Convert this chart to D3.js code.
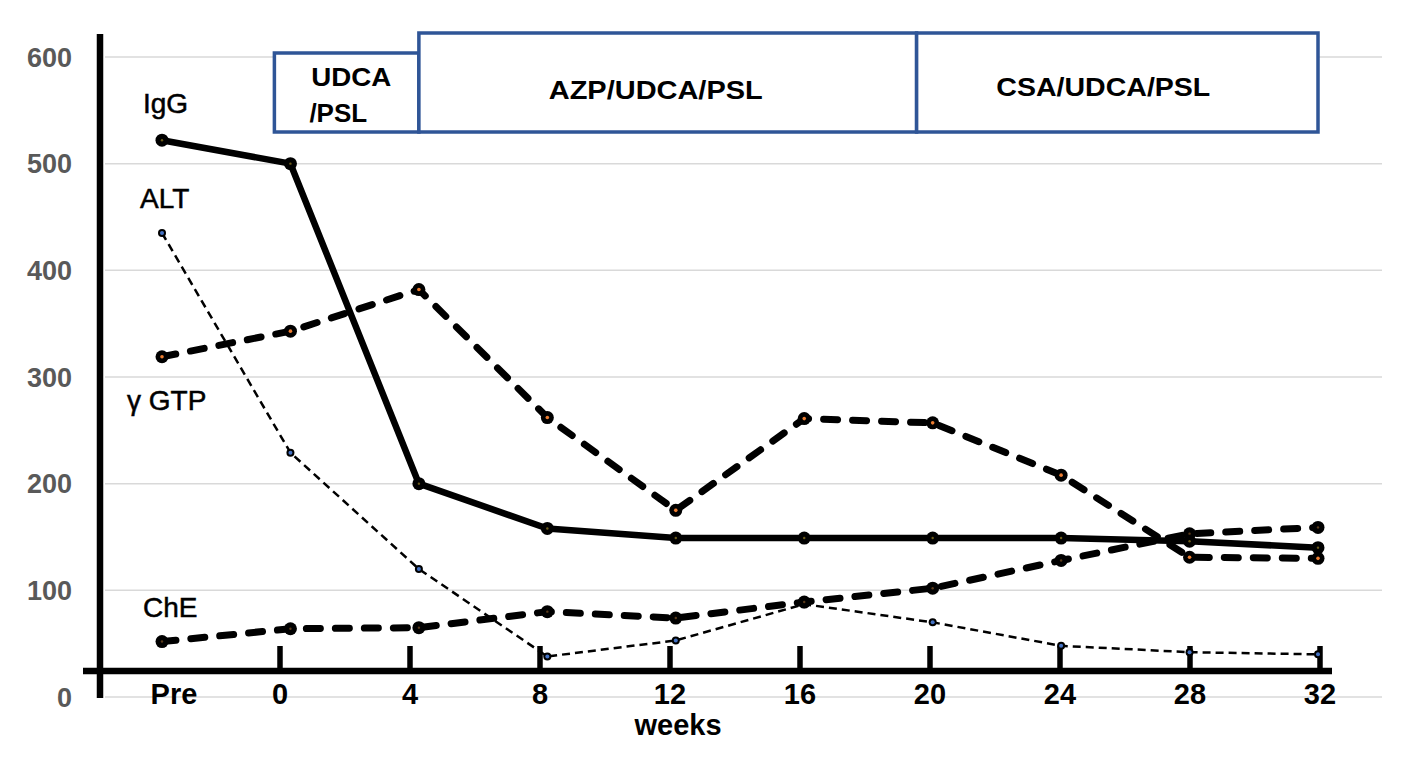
<!DOCTYPE html>
<html>
<head>
<meta charset="utf-8">
<script src="https://cdn.jsdelivr.net/npm/d3@7"></script>
<style>
  html, body { margin: 0; padding: 0; background: #fff; }
  svg { display: block; }
  text { font-family: "Liberation Sans", Arial, sans-serif; }
</style>
</head>
<body>
<svg id="chart" width="1417" height="760"></svg>
<script>
// ---- data ----
const categories = ["Pre", "0", "4", "8", "12", "16", "20", "24", "28", "32"];
const weekNumbers = [-4, 0, 4, 8, 12, 16, 20, 24, 28, 32];
const axisWeeks = [0, 4, 8, 12, 16, 20, 24, 28, 32];
const yTicks = [0, 100, 200, 300, 400, 500, 600];

const igg = [522, 500, 200, 158, 149, 149, 149, 149, 146, 140];
const alt = [435, 229, 120, 38, 53, 87, 70, 48, 42, 40];
const ggtp = [319, 343, 382, 262, 175, 261, 257, 208, 131, 130];
const che = [52, 64, 65, 80, 74, 89, 102, 128, 153, 159];

const treatments = [
  { lines: ["UDCA", "/PSL"], start: -0.5, end: 4 },
  { lines: ["AZP/UDCA/PSL"], start: 4, end: 19.5 },
  { lines: ["CSA/UDCA/PSL"], start: 19.5, end: 32 }
];

// ---- scales ----
const svg = d3.select("#chart");
const y = d3.scaleLinear().domain([0, 600]).range([697, 57]);
const x = d3.scalePoint().domain(categories).range([162, 1318]);
const xWeek = d3.scaleLinear().domain([-4, 32]).range([162, 1318]);
const xAxisScale = d3.scaleLinear().domain([0, 32]).range([280, 1320]);

// ---- gridlines ----
svg.append("g").selectAll("line").data(yTicks).join("line")
  .attr("x1", 105).attr("x2", 1382)
  .attr("y1", d => y(d)).attr("y2", d => y(d))
  .attr("stroke", "#d9d9d9").attr("stroke-width", 1.5);

// y labels
svg.append("g").selectAll("text").data(yTicks).join("text")
  .attr("x", 72).attr("y", d => y(d)).attr("dy", "0.36em")
  .attr("text-anchor", "end").attr("font-size", 27).attr("font-weight", "bold")
  .attr("fill", "#595959").text(d => d);

// ---- treatment boxes ----
const boxG = svg.append("g");
treatments.forEach((t, i) => {
  const top = i === 0 ? 53 : 33;
  const bottom = 132;
  const x0 = xWeek(t.start), x1 = xWeek(t.end);
  boxG.append("rect").attr("x", x0).attr("y", top)
    .attr("width", x1 - x0).attr("height", bottom - top)
    .attr("fill", "#fff").attr("stroke", "#2F5597").attr("stroke-width", 3.5);
});
treatments.forEach((t, i) => {
  const x0 = xWeek(t.start), x1 = xWeek(t.end);
  if (t.lines.length === 2) {
    boxG.append("text").attr("x", x0 + 37).attr("y", 86)
      .attr("font-size", 26).attr("font-weight", "bold")
      .attr("textLength", 80).attr("lengthAdjust", "spacingAndGlyphs").text(t.lines[0]);
    boxG.append("text").attr("x", x0 + 35).attr("y", 122)
      .attr("font-size", 26).attr("font-weight", "bold").text(t.lines[1]);
  } else {
    boxG.append("text").attr("x", (x0 + x1) / 2 + (i === 1 ? -12 : -14)).attr("y", i === 1 ? 99 : 96)
      .attr("text-anchor", "middle").attr("font-size", 26).attr("font-weight", "bold")
      .attr("textLength", 214).attr("lengthAdjust", "spacingAndGlyphs")
      .text(t.lines[0]);
  }
});

// ---- axes ----
svg.append("line").attr("x1", 100).attr("x2", 100).attr("y1", 34).attr("y2", 698)
  .attr("stroke", "#000").attr("stroke-width", 6.5);
svg.append("line").attr("x1", 83).attr("x2", 1332).attr("y1", 671).attr("y2", 671)
  .attr("stroke", "#000").attr("stroke-width", 6.5);
svg.append("g").selectAll("line").data(axisWeeks).join("line")
  .attr("x1", d => xAxisScale(d)).attr("x2", d => xAxisScale(d))
  .attr("y1", 646).attr("y2", 671)
  .attr("stroke", "#000").attr("stroke-width", 5.5);

// x labels
const xLabelPos = d => d === "Pre" ? xAxisScale(0) - 106 : xAxisScale(+d);
svg.append("g").selectAll("text").data(categories).join("text")
  .attr("x", d => xLabelPos(d)).attr("y", 704)
  .attr("text-anchor", "middle").attr("font-size", 29).attr("font-weight", "bold")
  .attr("fill", "#000").text(d => d);
svg.append("text").attr("x", 678).attr("y", 735)
  .attr("text-anchor", "middle").attr("font-size", 29).attr("font-weight", "bold")
  .text("weeks");

// ---- series ----
const line = d3.line().x((d, i) => x(categories[i])).y(d => y(d));

function drawSeries(values, opts) {
  svg.append("path").datum(values)
    .attr("d", line).attr("fill", "none")
    .attr("stroke", "#000").attr("stroke-width", opts.width)
    .attr("stroke-dasharray", opts.dash || null)
    .attr("stroke-linecap", opts.cap || "butt")
    .attr("stroke-linejoin", "round");
  const g = svg.append("g");
  g.selectAll("circle.m").data(values).join("circle").attr("class", "m")
    .attr("cx", (d, i) => x(categories[i])).attr("cy", d => y(d))
    .attr("r", opts.r).attr("fill", "#000");
  if (opts.center) {
    g.selectAll("circle.c").data(values).join("circle").attr("class", "c")
      .attr("cx", (d, i) => x(categories[i])).attr("cy", d => y(d))
      .attr("r", opts.cr).attr("fill", opts.center);
  }
}

drawSeries(alt, { width: 2.5, dash: "8,5", r: 4, center: "#4472C4", cr: 2 });
drawSeries(che, { width: 7, dash: "14,15", cap: "round", r: 6.5, center: "#5a3a1a", cr: 1.2 });
drawSeries(ggtp, { width: 7, dash: "14,15", cap: "round", r: 6.5, center: "#ED7D31", cr: 1.8 });
drawSeries(igg, { width: 6.5, r: 6.5, center: "#6b5a1a", cr: 1.2 });

// ---- series labels ----
const seriesLabels = [
  { text: "IgG", x: 143, y: 113 },
  { text: "ALT", x: 140, y: 208 },
  { text: "\u03B3 GTP", x: 127, y: 410 },
  { text: "ChE", x: 143, y: 617 }
];
svg.append("g").selectAll("text").data(seriesLabels).join("text")
  .attr("x", d => d.x).attr("y", d => d.y)
  .attr("font-size", 28).attr("fill", "#000")
  .attr("stroke", "#000").attr("stroke-width", 0.5)
  .text(d => d.text);
</script>
</body>
</html>
